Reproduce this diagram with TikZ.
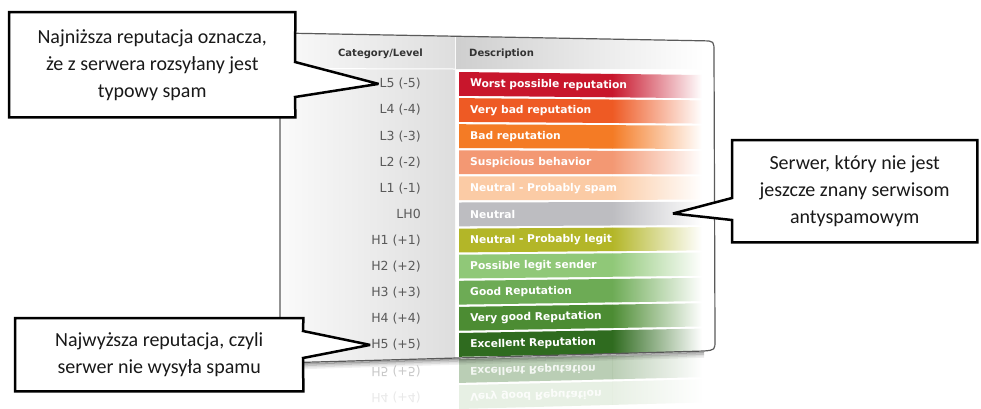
\documentclass[tikz,border=0pt]{standalone}
\usepackage{fontspec}
\setmainfont{Carlito}
\newfontfamily\tabfont{DejaVu Sans}
\usetikzlibrary{calc}
\pgfdeclarelayer{tab}
\pgfdeclarelayer{cbg}
\pgfsetlayers{tab,cbg,main}
\definecolor{r0}{HTML}{C8162C}
\definecolor{r1}{HTML}{EE5A24}
\definecolor{r2}{HTML}{F47B25}
\definecolor{r3}{HTML}{F39873}
\definecolor{r4}{HTML}{FBCBA5}
\definecolor{r5}{HTML}{BDBDC1}
\definecolor{r6}{HTML}{B3B628}
\definecolor{r7}{HTML}{90C878}
\definecolor{r8}{HTML}{6DAB55}
\definecolor{r9}{HTML}{4C8C33}
\definecolor{r10}{HTML}{2F6B1F}
\definecolor{catgray}{HTML}{5A5A5A}
\definecolor{headgray}{HTML}{333333}
\definecolor{framegray}{HTML}{5A5A5A}
\begin{document}
\begin{tikzpicture}[x=1pt,y=-1pt,
  bartext/.style={anchor=west,inner sep=0pt,text=white,font=\tabfont\bfseries\fontsize{10.7}{12}\selectfont},
  cattext/.style={anchor=east,inner sep=1pt,text=catgray,font=\tabfont\fontsize{12.5}{14}\selectfont},
  headtext/.style={inner sep=0pt,text=headgray,font=\tabfont\bfseries\fontsize{10}{12}\selectfont},
  callout/.style={anchor=north west,inner sep=0pt,align=center,text=black!90,font=\fontsize{20}{27}\selectfont},
  cline/.style={draw=black,fill=white,line width=2.5pt,line join=miter,miter limit=3}]
\useasboundingbox (0,0) rectangle (981,408);

\begin{pgfonlayer}{tab}
  \fill[white] (0,0) rectangle (981,408);
  % table body
  \fill[white] (280,33) -- (703,40.8) .. controls (714,41) .. (714,52) -- (715,340) .. controls (715,350) .. (704,351) -- (280,363) -- cycle;
  \shade[left color=black!2,right color=black!13] (280,33) -- (455,36) -- (455,359) -- (280,363) -- cycle;
  \shade[left color=black!19,right color=white] (456,36.5) -- (704,40.8) -- (704,69) -- (456,69) -- cycle;
  \draw[white,line width=1pt] (281,68.5) -- (455,69);
  \node[headtext,anchor=east] (hcat) at (423,54) {Category/Level};
  \node[headtext,anchor=west] (hdesc) at (469,54) {Description};
  % rows
  \foreach \i/\c/\t/\lab in {0/r0/Worst possible reputation/L5 (-5),
      1/r1/Very bad reputation/L4 (-4),
      2/r2/Bad reputation/L3 (-3),
      3/r3/Suspicious behavior/L2 (-2),
      4/r4/Neutral - Probably spam/L1 (-1),
      5/r5/Neutral/LH0,
      6/r6/Neutral - Probably legit/H1 (+1),
      7/r7/Possible legit sender/H2 (+2),
      8/r8/Good Reputation/H3 (+3),
      9/r9/Very good Reputation/H4 (+4),
      10/r10/Excellent Reputation/H5 (+5)}{
    \pgfmathsetmacro\tL{72+26.1*\i}
    \pgfmathsetmacro\bL{\tL+23.8}
    \pgfmathsetmacro\tR{75+25.36*\i}
    \pgfmathsetmacro\bR{\tR+23.2}
    \pgfmathsetmacro\tM{\tL+0.63*(\tR-\tL)}
    \pgfmathsetmacro\bM{\bL+0.63*(\bR-\bL)}
    \fill[\c] (459,\tL) -- (612.3,\tM) -- (612.3,\bM) -- (459,\bL) -- cycle;
    \shade[left color=\c,right color=white] (612,\tM) -- (702,\tR) -- (702,\bR) -- (612,\bM) -- cycle;
    \pgfmathsetmacro\cL{(\tL+\bL)/2}
    \pgfmathsetmacro\cR{(\tR+\bR)/2}
    \pgfmathsetmacro\ang{-atan((\cR-\cL)/243)}
    \pgfmathsetmacro\cT{\cL+(11/243)*(\cR-\cL)}
    \node[bartext,rotate=\ang] (d\i) at (470,\cT) {\t};
    \node[cattext] (l\i) at (422,\cL) {\lab};
  }
  % reflection
  \foreach \i/\c/\t/\lab/\op in {11/r10/Excellent Reputation/H5 (+5)/0.33,
      12/r9/Very good Reputation/H4 (+4)/0.13}{
    \pgfmathsetmacro\tL{72+26.1*\i}
    \pgfmathsetmacro\bL{\tL+23.8}
    \pgfmathsetmacro\tR{75+25.36*\i}
    \pgfmathsetmacro\bR{\tR+23.2}
    \pgfmathsetmacro\tM{\tL+0.63*(\tR-\tL)}
    \pgfmathsetmacro\bM{\bL+0.63*(\bR-\bL)}
    \begin{scope}[opacity=\op]
      \fill[\c] (459,\tL) -- (612,\tM) -- (612,\bM) -- (459,\bL) -- cycle;
      \shade[left color=\c,right color=white] (612,\tM) -- (702,\tR) -- (702,\bR) -- (612,\bM) -- cycle;
    \end{scope}
    \pgfmathsetmacro\cL{(\tL+\bL)/2}
    \pgfmathsetmacro\cR{(\tR+\bR)/2}
    \pgfmathsetmacro\ang{atan((\cR-\cL)/243)}
    \pgfmathsetmacro\cT{\cL+(11/243)*(\cR-\cL)}
    \node[bartext,yscale=-1,rotate=\ang,opacity=0.85] (rd\i) at (470,\cT) {\t};
    \node[cattext,yscale=-1,opacity=\op] (rl\i) at (422,\cL) {\lab};
  }
  % frame
  \draw[framegray,line width=1.2pt] (280,363) -- (280,33) -- (703,40.8) .. controls (714,41) .. (714,52) -- (715,340) .. controls (715,350) .. (704,351) -- cycle;
  \foreach \k/\o in {1.5/0.35,3/0.22,4.5/0.13,6/0.06}{
    \draw[black,opacity=\o,line width=1.5pt] (281,363+\k) -- (704,351+\k);
  }
\end{pgfonlayer}

% callouts
\coordinate (a1) at (295,62);
\coordinate (b1) at (295,97);
\node[callout,minimum width=286pt,minimum height=105pt] (c1) at (9,12)
  {Najniższa reputacja oznacza,\\że z serwera rozsyłany jest\\typowy spam};
\coordinate (a2) at (732,198);
\coordinate (b2) at (732,220);
\coordinate (tipN) at (673,213.5);
\node[callout,minimum width=245pt,minimum height=102pt] (c2) at (732,140)
  {Serwer, który nie jest\\jeszcze znany serwisom\\antyspamowym};
\coordinate (a3) at (303,331);
\coordinate (b3) at (303,358);
\node[callout,minimum width=288pt,minimum height=73pt] (c3) at (15,318)
  {Najwyższa reputacja, czyli\\serwer nie wysyła spamu};
\begin{pgfonlayer}{cbg}
  \draw[cline] (c1.north west) -- (c1.north east) -- (a1) -- (l0.west) -- (b1) -- (c1.south east) -- (c1.south west) -- cycle;
  \draw[cline] (c2.north west) -- (c2.north east) -- (c2.south east) -- (c2.south west) -- (b2) -- (tipN) -- (a2) -- cycle;
  \draw[cline] (c3.north west) -- (c3.north east) -- (a3) -- (l10.west) -- (b3) -- (c3.south east) -- (c3.south west) -- cycle;
\end{pgfonlayer}
\end{tikzpicture}
\end{document}
